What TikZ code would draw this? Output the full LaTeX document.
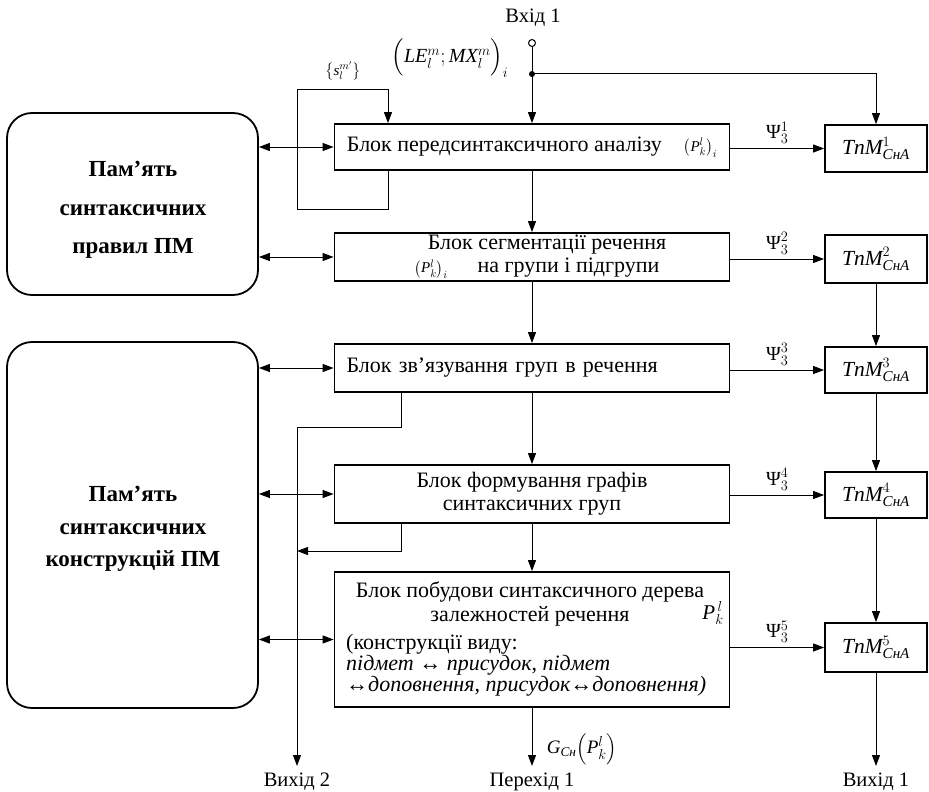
\documentclass[tikz,border=0pt]{standalone}
\usepackage{fontspec}
\setmainfont{Liberation Serif}
\usepackage{amsmath}
\usetikzlibrary{arrows.meta}
\tikzset{
  blk box/.style={
    draw,line width=1.8pt,minimum width=395pt,inner sep=0pt,
    font=\fontsize{22}{23}\selectfont,align=center
  },
  mem box/.style={
    draw,line width=1.8pt,rounded corners=25pt,minimum width=251pt,inner sep=0pt
  },
  mem text/.style={font=\bfseries\fontsize{23}{38.5}\selectfont,align=center},
  tnm box/.style={
    draw,line width=1.8pt,minimum width=102pt,inner sep=0pt,
    font=\fontsize{21.5}{23}\selectfont
  },
  sig edge/.style={line width=1pt,-{Triangle[length=11pt,width=8pt]}},
  bus edge/.style={line width=1pt,
    {Triangle[length=11pt,width=8pt]}-{Triangle[length=11pt,width=8pt]}},
  io label/.style={font=\fontsize{20.5}{22}\selectfont},
  psi label/.style={font=\fontsize{20}{22}\selectfont,above=1pt}
}
\newcommand{\vi}[1]{\textit{#1}}
\newcommand{\pkl}{{\fontsize{15}{18}\selectfont$\bigl(\vi{P}_k^l\bigr)_i$}}

\begin{document}
\begin{tikzpicture}[x=1pt,y=-1pt]
  \useasboundingbox (0,0) rectangle (929,792);
  % memory blocks
  \node[mem box,minimum height=182pt] (m1) at (132.5,204) {};
  \node[mem text] (m1t) at (133,210) {Пам’ять\\синтаксичних\\правил ПМ};
  \node[mem box,minimum height=366pt] (m2) at (132.5,525) {};
  \node[mem text,font=\bfseries\fontsize{23}{32.5}\selectfont] (m2t) at (133,529)
    {Пам’ять\\синтаксичних\\конструкцій ПМ};
  % processing blocks
  \node[blk box,minimum height=46pt] (b1) at (532,147)
    {Блок передсинтаксичного аналізу\quad\pkl};
  \node[blk box,minimum height=48pt] (b2) at (532,257)
    {\hspace*{30pt}Блок сегментації речення\\\hspace*{10pt}\pkl\hspace{30pt}на групи і підгрупи};
  \node[blk box,minimum height=48pt,text width=371pt,align=left] (b3) at (532,368)
    {Блок зв’язування груп в речення};
  \node[blk box,minimum height=58pt] (b4) at (532,494)
    {Блок формування графів\\синтаксичних груп};
  \node[blk box,minimum height=135pt] (b5) at (532,639.5) {};
  \node[font=\fontsize{22}{24}\selectfont,align=center] (b5top) at (530,604)
    {Блок побудови синтаксичного дерева\\залежностей речення};
  \node[font=\fontsize{22}{21}\selectfont,align=left,anchor=west,inner sep=0pt]
    (b5bot) at (346,665)
    {(конструкції виду:\\\textit{підмет ↔ присудок}, \textit{підмет}\\
     \textit{↔доповнення}, \textit{присудок↔доповнення)}};
  \node[font=\fontsize{21}{22}\selectfont] (pk5) at (713,613) {$\vi{P}_{k}^{\,l}$};
  % TnM blocks
  \node[tnm box,minimum height=47pt] (t1) at (876,148.5) {$\vi{TnM}^{1}_{\vi{СнА}}$};
  \node[tnm box,minimum height=48pt] (t2) at (876,259) {$\vi{TnM}^{2}_{\vi{СнА}}$};
  \node[tnm box,minimum height=46pt] (t3) at (876,370) {$\vi{TnM}^{3}_{\vi{СнА}}$};
  \node[tnm box,minimum height=46pt] (t4) at (876,495) {$\vi{TnM}^{4}_{\vi{СнА}}$};
  \node[tnm box,minimum height=49pt] (t5) at (876,647.5) {$\vi{TnM}^{5}_{\vi{СнА}}$};
  % input
  \node[io label] (in1) at (533,18) {Вхід 1};
  \node[draw,circle,inner sep=0pt,minimum size=7pt,line width=1pt] (inc) at (532,43) {};
  \coordinate (spl) at (532,74);
  \fill (spl) circle (3pt);
  \node[font=\fontsize{20}{22}\selectfont] (lemx) at (450,58)
    {$\Bigl(\vi{LE}_l^m;\vi{MX}_l^m\Bigr)_i$};
  \node[font=\fontsize{15}{17}\selectfont] (sml) at (343,71)
    {$\left\{\vi{s}_l^{m'}\right\}$};
  \draw[sig edge] (inc) -- (b1);
  \draw[sig edge] (spl) -| (t1);
  % feedback loop of the first block
  \coordinate (fbtop) at (388,89);
  \coordinate (fbbot) at (297,209);
  \draw[sig edge] (b1.south -| fbtop) |- (fbbot) |- (fbtop) -- (b1.north -| fbtop);
  % main chain
  \foreach \i/\j in {1/2,2/3,3/4,4/5}
    \draw[sig edge] (b\i) -- (b\j);
  \foreach \i/\j in {2/3,3/4,4/5}
    \draw[sig edge] (t\i) -- (t\j);
  \foreach \i in {1,...,5}
    \draw[sig edge] (b\i.east |- t\i.west) --
      node[psi label] {$\text{Ψ}^{\i}_{3}$} (t\i.west);
  \foreach \i in {1,2}
    \draw[bus edge] (m1.east |- b\i.west) -- (b\i.west);
  \foreach \i in {3,4,5}
    \draw[bus edge] (m2.east |- b\i.west) -- (b\i.west);
  % outputs
  \coordinate (x1) at (876,766);
  \coordinate (x2) at (532,766);
  \coordinate (x3) at (297,766);
  \coordinate (o2a) at (401,427);
  \coordinate (o2b) at (401,551);
  \draw[sig edge] (t5) -- (x1);
  \draw[sig edge] (b5) -- (x2);
  \draw[sig edge] (b3.south -| o2a) |- (x3 |- o2a) -- (x3);
  \draw[sig edge] (b4.south -| o2b) |- (x3 |- o2b);
  \node[font=\fontsize{19}{21}\selectfont] (glab) at (582,749)
    {$\vi{G}_{\vi{Сн}}\Bigl(\vi{P}_k^l\Bigr)$};
  \node[io label] (out1) at (876,782) {Вихід 1};
  \node[io label] (out2) at (297,782) {Вихід 2};
  \node[io label] (out3) at (532,782) {Перехід 1};
\end{tikzpicture}
\end{document}
